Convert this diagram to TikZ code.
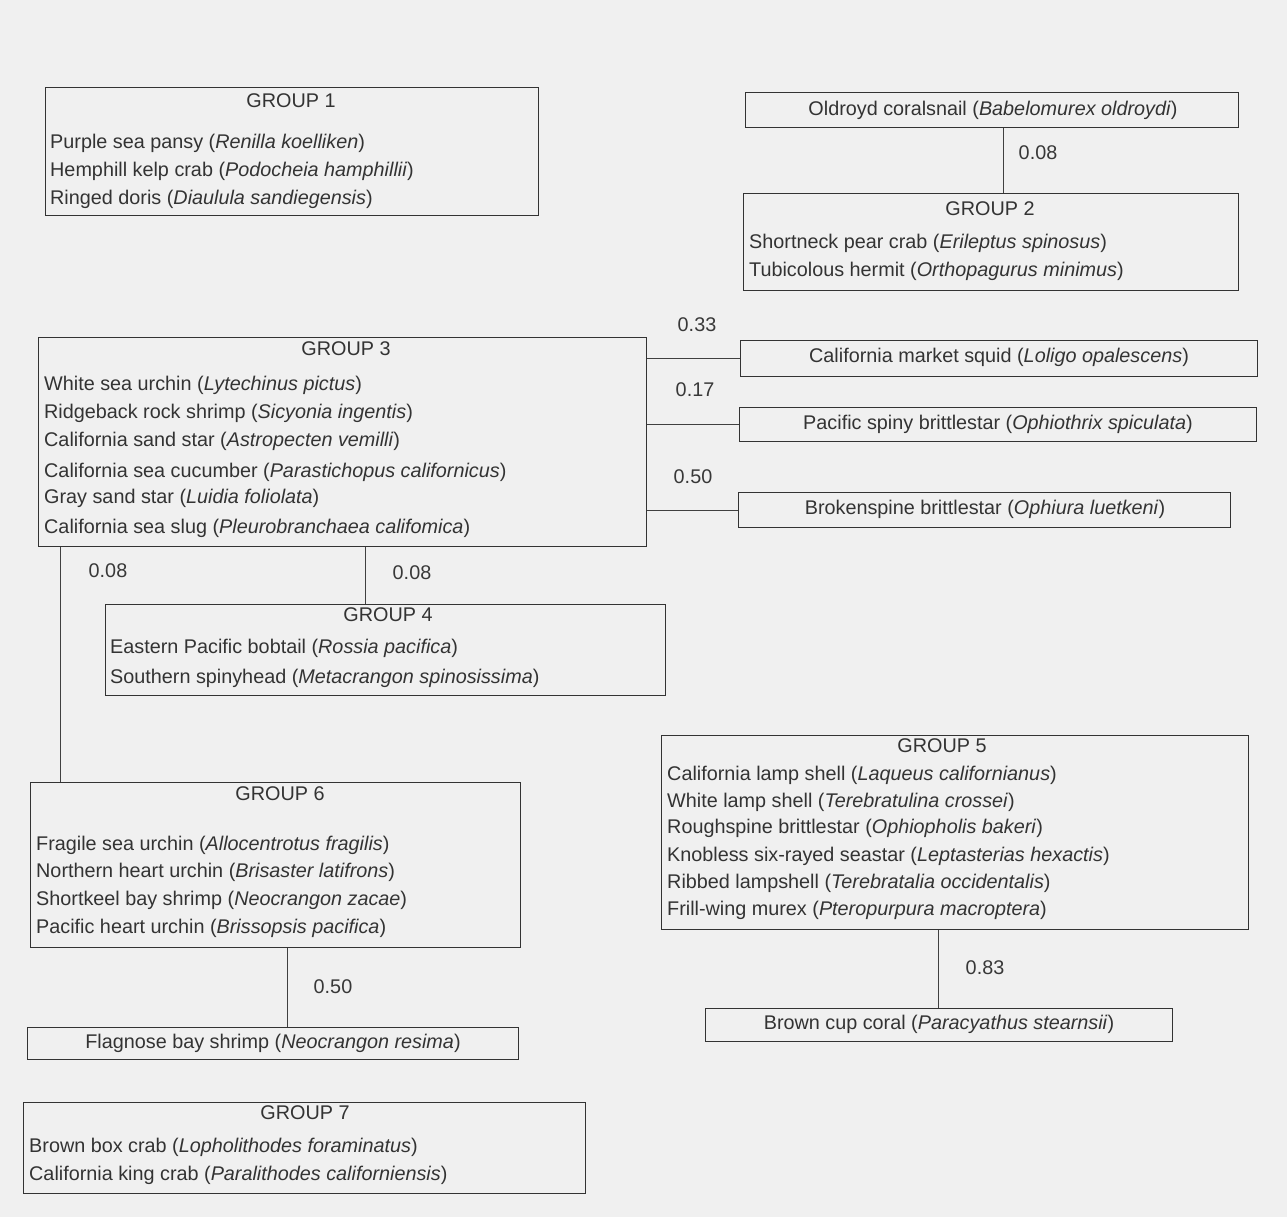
\documentclass[tikz,border=0pt]{standalone}
\usepackage{fontspec}
\setmainfont{Liberation Sans}
\begin{document}
\begin{tikzpicture}[x=1pt,y=-1pt,
  box/.style={draw=black!80, line width=1.3pt, anchor=north west, inner sep=0pt},
  conn/.style={draw=black!75, line width=1pt},
  tx/.style={anchor=west, inner sep=0pt, text=black!80, font=\fontsize{19.8}{22}\selectfont},
  ctx/.style={anchor=center, inner sep=0pt, text=black!80, font=\fontsize{19.8}{22}\selectfont},
  num/.style={anchor=center, inner sep=0pt, text=black!78, font=\fontsize{19.8}{22}\selectfont}]
\fill[black!6] (0,0) rectangle (1287,1217);
\useasboundingbox (0,0) rectangle (1287,1217);
% GROUP 1
\node[box, minimum width=493pt, minimum height=128pt] (g1) at (45,87) {};
\node[ctx] (g1t) at (291,101) {GROUP 1};
\node[tx] (g1a) at (50,143) {Purple sea pansy (\textit{Renilla koelliken})};
\node[tx] (g1b) at (50,171) {Hemphill kelp crab (\textit{Podocheia hamphillii})};
\node[tx] (g1c) at (50,199) {Ringed doris (\textit{Diaulula sandiegensis})};
% Oldroyd
\node[box, minimum width=493pt, minimum height=35pt] (old) at (745,92) {};
\node[ctx] (oldt) at (993,110) {Oldroyd coralsnail (\textit{Babelomurex  oldroydi})};
% GROUP 2
\node[box, minimum width=495pt, minimum height=97pt] (g2) at (743,193) {};
\node[ctx] (g2t) at (990,209) {GROUP 2};
\node[tx] (g2a) at (749,243) {Shortneck pear crab (\textit{Erileptus spinosus})};
\node[tx] (g2b) at (749,271) {Tubicolous hermit (\textit{Orthopagurus minimus})};
\coordinate (c12) at (1003,0);
\draw[conn] (c12 |- old.south) -- (c12 |- g2.north);
\node[num] (n1) at (1038,153) {0.08};
% GROUP 3
\node[box, minimum width=608pt, minimum height=209pt] (g3) at (38,337) {};
\node[ctx] (g3t) at (346,349) {GROUP 3};
\node[tx] (g3a) at (44,385) {White sea urchin (\textit{Lytechinus pictus})};
\node[tx] (g3b) at (44,413) {Ridgeback rock shrimp (\textit{Sicyonia ingentis})};
\node[tx] (g3c) at (44,441) {California sand star (\textit{Astropecten vemilli})};
\node[tx] (g3d) at (44,472) {California sea cucumber (\textit{Parastichopus californicus})};
\node[tx] (g3e) at (44,498) {Gray sand star (\textit{Luidia foliolata})};
\node[tx] (g3f) at (44,528) {California sea slug (\textit{Pleurobranchaea califomica})};
% right singletons
\node[box, minimum width=517pt, minimum height=36pt] (sq) at (740,340) {};
\node[ctx] (sqt) at (999,357) {California market squid (\textit{Loligo opalescens})};
\node[box, minimum width=517pt, minimum height=34pt] (psb) at (739,407) {};
\node[ctx] (psbt) at (998,424) {Pacific spiny brittlestar (\textit{Ophiothrix spiculata})};
\node[box, minimum width=492pt, minimum height=35pt] (bsb) at (738,492) {};
\node[ctx] (bsbt) at (985,509) {Brokenspine brittlestar (\textit{Ophiura luetkeni})};
\draw[conn] (g3.east |- sq.west) -- (sq.west);
\draw[conn] (g3.east |- psb.west) -- (psb.west);
\draw[conn] (g3.east |- bsb.west) -- (bsb.west);
\node[num] (n2) at (697,325) {0.33};
\node[num] (n3) at (695,390) {0.17};
\node[num] (n4) at (693,477) {0.50};
% GROUP 4
\node[box, minimum width=560pt, minimum height=91pt] (g4) at (105,604) {};
\node[ctx] (g4t) at (388,615) {GROUP 4};
\node[tx] (g4a) at (110,648) {Eastern Pacific bobtail (\textit{Rossia pacifica})};
\node[tx] (g4b) at (110,678) {Southern spinyhead (\textit{Metacrangon spinosissima})};
\coordinate (c34) at (365,0);
\draw[conn] (c34 |- g3.south) -- (c34 |- g4.north);
\node[num] (n5) at (412,573) {0.08};
% GROUP 6
\node[box, minimum width=490pt, minimum height=165pt] (g6) at (30,782) {};
\node[ctx] (g6t) at (280,794) {GROUP 6};
\node[tx] (g6a) at (36,845) {Fragile sea urchin (\textit{Allocentrotus fragilis})};
\node[tx] (g6b) at (36,872) {Northern heart urchin (\textit{Brisaster latifrons})};
\node[tx] (g6c) at (36,900) {Shortkeel bay shrimp (\textit{Neocrangon zacae})};
\node[tx] (g6d) at (36,928) {Pacific heart urchin (\textit{Brissopsis pacifica})};
\coordinate (c36) at (60,0);
\draw[conn] (c36 |- g3.south) -- (c36 |- g6.north);
\node[num] (n6) at (108,571) {0.08};
% Flagnose
\node[box, minimum width=491pt, minimum height=32pt] (fb) at (27,1027) {};
\node[ctx] (fbt) at (273,1043) {Flagnose bay shrimp (\textit{Neocrangon resima})};
\coordinate (c6f) at (287,0);
\draw[conn] (c6f |- g6.south) -- (c6f |- fb.north);
\node[num] (n7) at (333,987) {0.50};
% GROUP 5
\node[box, minimum width=587pt, minimum height=194pt] (g5) at (661,735) {};
\node[ctx] (g5t) at (942,746) {GROUP 5};
\node[tx] (g5a) at (667,775) {California lamp shell (\textit{Laqueus californianus})};
\node[tx] (g5b) at (667,802) {White lamp shell (\textit{Terebratulina crossei})};
\node[tx] (g5c) at (667,828) {Roughspine brittlestar (\textit{Ophiopholis bakeri})};
\node[tx] (g5d) at (667,856) {Knobless six-rayed seastar (\textit{Leptasterias hexactis})};
\node[tx] (g5e) at (667,883) {Ribbed lampshell (\textit{Terebratalia occidentalis})};
\node[tx] (g5f) at (667,910) {Frill-wing murex (\textit{Pteropurpura macroptera})};
% Brown cup coral
\node[box, minimum width=467pt, minimum height=33pt] (bcc) at (705,1008) {};
\node[ctx] (bcct) at (939,1024) {Brown cup coral (\textit{Paracyathus stearnsii})};
\coordinate (c5b) at (938,0);
\draw[conn] (c5b |- g5.south) -- (c5b |- bcc.north);
\node[num] (n8) at (985,968) {0.83};
% GROUP 7
\node[box, minimum width=562pt, minimum height=91pt] (g7) at (23,1102) {};
\node[ctx] (g7t) at (305,1113) {GROUP 7};
\node[tx] (g7a) at (29,1147) {Brown box crab (\textit{Lopholithodes foraminatus})};
\node[tx] (g7b) at (29,1175) {California king crab (\textit{Paralithodes californiensis})};
\end{tikzpicture}
\end{document}
